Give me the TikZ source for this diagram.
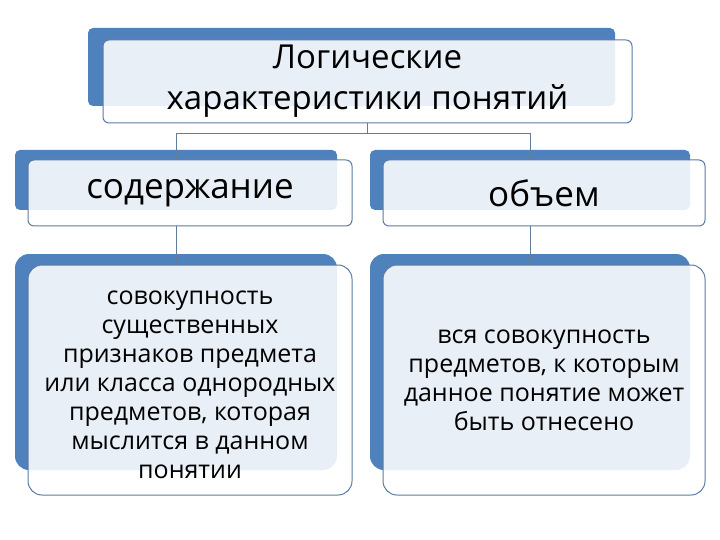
\documentclass[tikz,border=0pt]{standalone}
\usepackage{fontspec}
\setmainfont{Open Sans}
\definecolor{bk}{HTML}{4F81BD}
\definecolor{fr}{HTML}{5B7BA3}
\tikzset{
 back/.style={fill=bk,draw=none,rounded corners=5pt},
 front/.style={fill=white,fill opacity=0.88,text opacity=1,draw=fr,line width=1pt,rounded corners=6pt,align=center,text=black,inner sep=0pt},
 conn/.style={draw=fr!80!gray,line width=0.8pt}
}
\begin{document}
\begin{tikzpicture}[x=1pt,y=-1pt]
\useasboundingbox (0,0) rectangle (720,540);
% backs
\fill[back] (88,28) rectangle (615,106);
\fill[back] (15,150) rectangle (337,210);
\fill[back] (370,150) rectangle (690,210);
\fill[back,rounded corners=14pt] (15,254) rectangle (337,470);
\fill[back,rounded corners=14pt] (370,254) rectangle (690,470);
% fronts
\node[front,minimum width=529pt,minimum height=83pt,font=\fontsize{33}{41}\selectfont] (t) at (367.5,81.5) {Логические\\характеристики понятий};
\node[front,minimum width=324pt,minimum height=66pt,font=\fontsize{35}{40}\selectfont] (a) at (190,193) {содержание};
\node[front,minimum width=322pt,minimum height=66pt,font=\fontsize{35}{40}\selectfont] (b) at (544,193) {объем};
\node[front,rounded corners=14pt,minimum width=324pt,minimum height=230pt,font=\fontsize{25}{29}\selectfont] (c) at (190,380) {};
\node[align=center,font=\fontsize{25}{29}\selectfont,inner sep=0pt] at (190,385) {совокупность\\существенных\\признаков предмета\\или класса однородных\\предметов, которая\\мыслится в данном\\понятии};
\node[front,rounded corners=14pt,minimum width=322pt,minimum height=230pt,font=\fontsize{25}{29}\selectfont] (d) at (544,380) {вся совокупность\\предметов, к которым\\данное понятие может\\быть отнесено};
\draw[conn] (t.south) -- ++(0,10) coordinate (m) -| (176,160);
\draw[conn] (m) -| (530,160);
\draw[conn] (176,226) -- (176,265);
\draw[conn] (530,226) -- (530,265);
\end{tikzpicture}
\end{document}
